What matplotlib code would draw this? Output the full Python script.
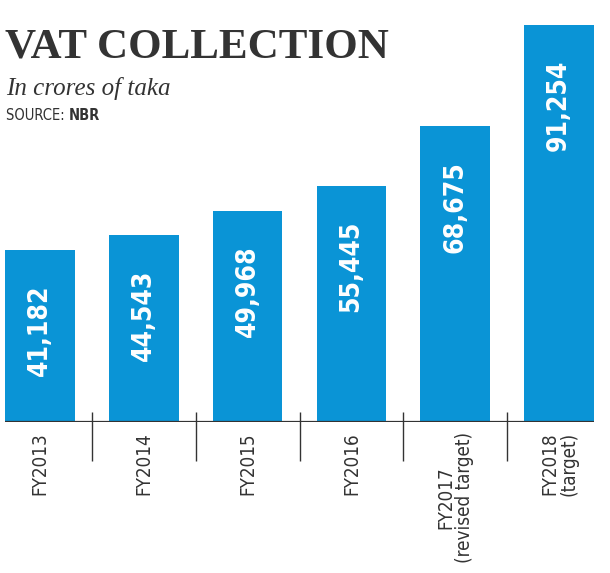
import matplotlib.pyplot as plt

categories = ["FY2013", "FY2014", "FY2015", "FY2016",
              "FY2017\n(revised target)", "FY2018\n(target)"]
values = [41182, 44543, 49968, 55445, 68675, 91254]
value_labels = ["41,182", "44,543", "49,968", "55,445", "68,675", "91,254"]

blue = "#0a94d6"
dark = "#333333"

fig = plt.figure(figsize=(6.10, 5.73), dpi=100)
ax = fig.add_axes([5 / 610, 1 - 422 / 573, 589 / 610, 397 / 573])

x = range(len(values))
bars = ax.bar(x, values, width=0.67, color=blue)
ax.set_xlim(-0.337, len(values) - 1 + 0.337)
ax.set_ylim(2900, 91254)

# value labels inside the bars, near the top
for rect, lab in zip(bars, value_labels):
    ax.annotate(lab, (rect.get_x() + rect.get_width() / 2, rect.get_height()),
                xytext=(0, -35), textcoords="offset pixels",
                rotation=90, ha="center", va="top", color="white",
                fontsize=19, fontweight="bold", family="DejaVu Sans",
                fontstretch="condensed")

for i, cat in enumerate(categories):
    ax.text(i, -0.025, cat, transform=ax.get_xaxis_transform(),
            rotation=90, ha="center", va="top", multialignment="center",
            fontsize=13.5, color=dark, family="DejaVu Sans",
            fontstretch="condensed", linespacing=1.0)

# separators between categories
seps = [i + 0.5 for i in range(len(values) - 1)]
ax.vlines(seps, -0.097, 0.025, transform=ax.get_xaxis_transform(),
          color=dark, lw=1, clip_on=False)
ax.axhline(2900, color=dark, lw=1.6)

for s in ax.spines.values():
    s.set_visible(False)
ax.set_xticks([])
ax.set_yticks([])

fig.text(5 / 610, 1 - 57 / 573, "VAT COLLECTION", family="Liberation Serif",
         fontweight="bold", fontsize=31, color=dark, ha="left", va="baseline")
fig.text(6 / 610, 1 - 95 / 573, "In crores of taka", family="Liberation Serif",
         style="italic", fontsize=18, color=dark, ha="left", va="baseline")
src = fig.text(6 / 610, 1 - 120 / 573, "SOURCE: ", family="DejaVu Sans",
               fontstretch="condensed", fontsize=10.5, color=dark,
               ha="left", va="baseline")
fig.canvas.draw()
ax.annotate("NBR", xy=(1, 0), xycoords=src, family="DejaVu Sans",
            fontstretch="condensed", fontweight="bold", fontsize=10.5,
            color=dark, ha="left", va="bottom")

fig.savefig("out.png", dpi=100)
